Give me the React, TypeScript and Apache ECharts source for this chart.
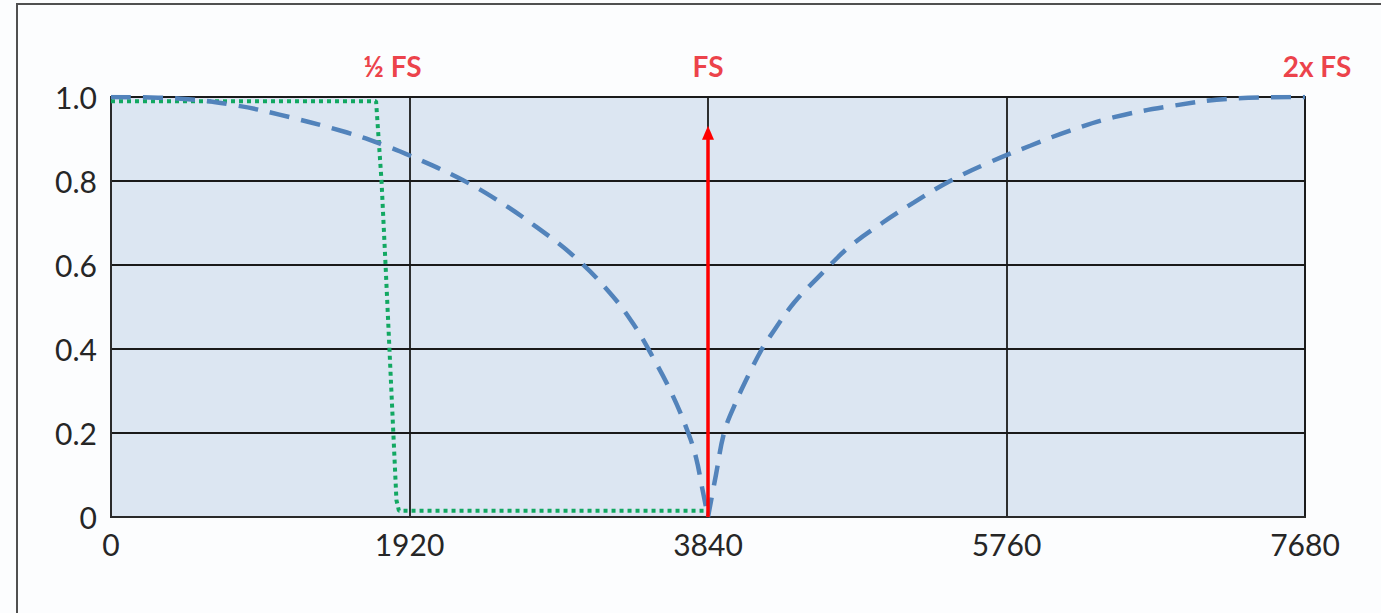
import { useEffect, useRef } from "react";
import * as echarts from "echarts";

// Frequency axis (Hz) and amplitude axis
const xTicks = [0, 1920, 3840, 5760, 7680];
const yTicks = [0, 0.2, 0.4, 0.6, 0.8, 1.0];

// Markers along the top edge
const topLabelFreqs = [1920, 3840, 7680];
const topLabelTexts = ["½ FS", "FS", "2x FS"];

// Sample-and-hold style response, falling branch (0 .. FS)
const responseLeft: [number, number][] = [
  [0, 1.0], [450, 0.996], [804, 0.98], [1083, 0.958], [1513, 0.916],
  [1766, 0.884], [1925, 0.86], [2221, 0.81], [2474, 0.757], [2727, 0.693],
  [2980, 0.62], [3208, 0.534], [3359, 0.46], [3486, 0.38], [3612, 0.29],
  [3713, 0.2], [3764, 0.14], [3802, 0.07], [3840, 0],
];

// Rising branch (FS .. 2x FS)
const responseRight: [number, number][] = [
  [3840, 0], [3891, 0.1], [3943, 0.2], [4007, 0.263], [4110, 0.345],
  [4187, 0.4], [4239, 0.43], [4393, 0.51], [4573, 0.58], [4625, 0.6],
  [4754, 0.645], [4960, 0.7], [5165, 0.749], [5397, 0.8], [5654, 0.845],
  [5912, 0.884], [6169, 0.92], [6452, 0.952], [6813, 0.978], [7199, 0.996],
  [7680, 1.0],
];

// Anti-alias filter (brick wall just below ½ FS)
const filterResponse: [number, number][] = [
  [0, 0.99], [1705, 0.99], [1740, 0.8], [1766, 0.6], [1791, 0.4],
  [1816, 0.2], [1836, 0.04], [1852, 0.015], [3840, 0.015],
];

// Tone at the sampling frequency
const toneFreq = 3840;
const toneLevel = 0.915;

const FONT = 'Lato, "Open Sans", "Noto Sans", sans-serif';
const labelOffsets = [[-17, 0], [0, 0], [12, 0]];

export default function App() {
  const ref = useRef<HTMLDivElement>(null);

  useEffect(() => {
    document.body.style.margin = "0";
    if (!ref.current) return;
    const chart = echarts.init(ref.current, undefined, { renderer: "svg" });

    const dashStyle = {
      color: "#5283bb",
      width: 4.5,
      type: [20, 12] as number[],
    };

    chart.setOption({
      animation: false,
      backgroundColor: "#fcfdfe",
      grid: {
        left: 111,
        right: 76,
        top: 97,
        bottom: 96,
        show: true,
        backgroundColor: "#dce6f2",
        borderColor: "#2a2a2a",
        borderWidth: 2,
      },
      xAxis: {
        type: "value",
        min: xTicks[0],
        max: xTicks[xTicks.length - 1],
        interval: xTicks[1] - xTicks[0],
        axisLine: { show: true, lineStyle: { color: "#2a2a2a", width: 2 } },
        axisTick: { show: false },
        splitLine: { show: true, lineStyle: { color: "#1a1a1a", width: 1.8 } },
        axisLabel: {
          color: "#262626",
          fontSize: 30,
          fontFamily: FONT,
          margin: 12,
          formatter: (v: number) => String(v),
        },
      },
      yAxis: {
        type: "value",
        min: yTicks[0],
        max: yTicks[yTicks.length - 1],
        interval: 0.2,
        axisLine: { show: true, lineStyle: { color: "#2a2a2a", width: 2 } },
        axisTick: { show: false },
        splitLine: { show: true, lineStyle: { color: "#1a1a1a", width: 1.8 } },
        axisLabel: {
          color: "#262626",
          fontSize: 30,
          fontFamily: FONT,
          margin: 14,
          formatter: (v: number) => (v === 0 ? "0" : v.toFixed(1)),
        },
      },
      graphic: [
        {
          type: "rect",
          shape: { x: 17, y: 4, width: 1500, height: 800 },
          style: { fill: "transparent", stroke: "#505050", lineWidth: 2 },
          silent: true,
        },
      ],
      series: [
        {
          type: "line",
          data: filterResponse,
          showSymbol: false,
          symbol: "none",
          lineStyle: { color: "#12a862", width: 4, type: [4, 4] },
          z: 3,
        },
        {
          type: "line",
          data: responseLeft,
          smooth: 0.4,
          symbol: "none",
          lineStyle: dashStyle,
          z: 4,
        },
        {
          type: "line",
          data: responseRight,
          smooth: 0.4,
          symbol: "none",
          lineStyle: dashStyle,
          z: 4,
        },
        {
          type: "line",
          data: [],
          z: 5,
          markLine: {
            silent: true,
            animation: false,
            symbol: ["none", "triangle"],
            symbolSize: [12, 14],
            label: { show: false },
            lineStyle: { color: "#ff0000", width: 3.5, type: "solid" },
            data: [[{ coord: [toneFreq, 0] }, { coord: [toneFreq, toneLevel] }]],
          },
        },
        {
          type: "scatter",
          symbolSize: 0,
          silent: true,
          z: 6,
          data: topLabelFreqs.map((f, i) => ({
            value: [f, 1.0],
            label: {
              show: true,
              position: "top",
              distance: 17,
              offset: labelOffsets[i],
              formatter: topLabelTexts[i],
              color: "#e8101a",
              fontWeight: "bold",
              fontSize: 28,
              fontFamily: FONT,
            },
          })),
        },
      ],
    });

    return () => chart.dispose();
  }, []);

  return <div ref={ref} style={{ width: 1381, height: 613 }} />;
}
